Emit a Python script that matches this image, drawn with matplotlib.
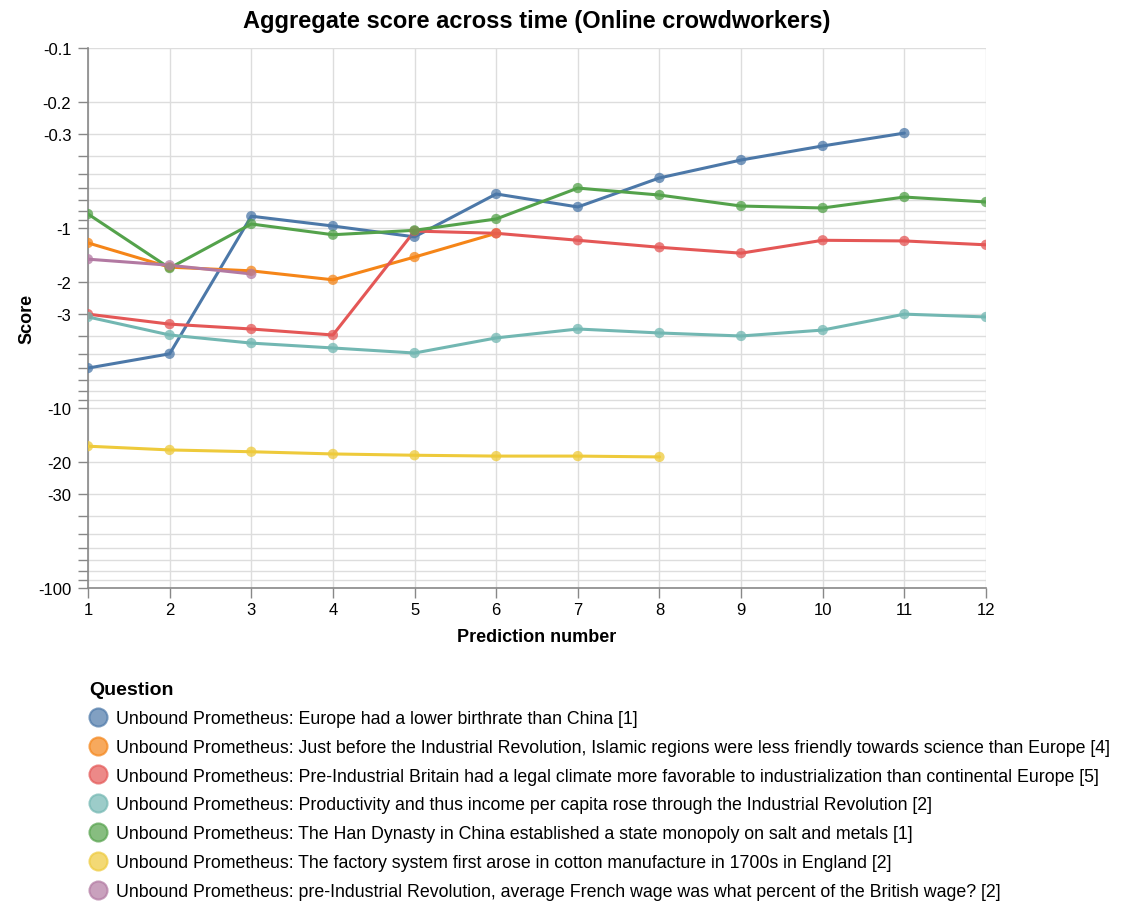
import numpy as np
import matplotlib
matplotlib.use("Agg")
import matplotlib.pyplot as plt
from matplotlib.lines import Line2D

plt.rcParams['font.family'] = ['Liberation Sans', 'DejaVu Sans']

series_names = [
    "Unbound Prometheus: Europe had a lower birthrate than China [1]",
    "Unbound Prometheus: Just before the Industrial Revolution, Islamic regions were less friendly towards science than Europe [4]",
    "Unbound Prometheus: Pre-Industrial Britain had a legal climate more favorable to industrialization than continental Europe [5]",
    "Unbound Prometheus: Productivity and thus income per capita rose through the Industrial Revolution [2]",
    "Unbound Prometheus: The Han Dynasty in China established a state monopoly on salt and metals [1]",
    "Unbound Prometheus: The factory system first arose in cotton manufacture in 1700s in England [2]",
    "Unbound Prometheus: pre-Industrial Revolution, average French wage was what percent of the British wage? [2]",
]
colors = ["#4c78a8", "#f58518", "#e45756", "#72b7b2", "#54a24b", "#eeca3b", "#b279a2"]

blue_x = [1, 2, 3, 4, 5, 6, 7, 8, 9, 10, 11]
blue_y = [-6.0, -5.0, -0.86, -0.975, -1.12, -0.647, -0.764, -0.527, -0.419, -0.35, -0.297]
orange_x = [1, 2, 3, 4, 5, 6]
orange_y = [-1.21, -1.65, -1.73, -1.94, -1.45, -1.07]
red_x = [1, 2, 3, 4, 5, 6, 7, 8, 9, 10, 11, 12]
red_y = [-3.01, -3.42, -3.64, -3.93, -1.04, -1.07, -1.17, -1.28, -1.38, -1.17, -1.18, -1.24]
teal_x = [1, 2, 3, 4, 5, 6, 7, 8, 9, 10, 11, 12]
teal_y = [-3.12, -3.93, -4.36, -4.64, -4.95, -4.08, -3.64, -3.83, -3.98, -3.69, -3.01, -3.12]
green_x = [1, 2, 3, 4, 5, 6, 7, 8, 9, 10, 11, 12]
green_y = [-0.836, -1.67, -0.95, -1.09, -1.03, -0.891, -0.60, -0.656, -0.755, -0.774, -0.673, -0.717]
yellow_x = [1, 2, 3, 4, 5, 6, 7, 8]
yellow_y = [-16.3, -17.1, -17.5, -18.0, -18.3, -18.5, -18.5, -18.7]
purple_x = [1, 2, 3]
purple_y = [-1.49, -1.61, -1.80]

xs = [blue_x, orange_x, red_x, teal_x, green_x, yellow_x, purple_x]
ys = [blue_y, orange_y, red_y, teal_y, green_y, yellow_y, purple_y]

major_ticks = [-0.1, -0.2, -0.3, -1, -2, -3, -10, -20, -30, -100]
major_labels = ["-0.1", "-0.2", "-0.3", "-1", "-2", "-3", "-10", "-20", "-30", "-100"]
minor_ticks = [-m * d for d in (0.1, 1, 10) for m in range(4, 10)]
x_ticks = list(range(1, 13))

W, H = 1133, 912
fig = plt.figure(figsize=(W / 100, H / 100), dpi=100)
ax = fig.add_axes([88 / W, 1 - 589 / H, (986 - 88) / W, (589 - 49) / H])


def fwd(y):
    y = np.asarray(y, dtype=float)
    with np.errstate(divide='ignore', invalid='ignore'):
        out = -np.log10(np.where(y < 0, -y, np.nan))
    return out


def inv(u):
    return -np.power(10.0, -np.asarray(u, dtype=float))


ax.set_yscale('function', functions=(fwd, inv))

for x, y, c in zip(xs, ys, colors):
    ax.plot(x, y, color=c, lw=2.2, zorder=3, solid_capstyle='round')
    ax.scatter(x, y, s=55, color=c, alpha=0.75, edgecolors='none', zorder=4)

ax.set_ylim(-100, -0.1)
ax.set_xlim(1, 12)
ax.set_yticks(major_ticks)
ax.set_yticklabels(major_labels)
ax.set_yticks(minor_ticks, minor=True)
ax.yaxis.set_minor_formatter(matplotlib.ticker.NullFormatter())
ax.set_xticks(x_ticks)
ax.set_xticklabels([str(v) for v in x_ticks])

ax.grid(True, which='both', color='#dddddd', lw=1, zorder=0)
ax.set_axisbelow(True)
for s in ['top', 'right']:
    ax.spines[s].set_visible(False)
for s in ['left', 'bottom']:
    ax.spines[s].set_color('#888888')
    ax.spines[s].set_linewidth(1.2)
ax.tick_params(axis='both', which='both', direction='out', length=7.5, width=1, color='#888888',
               labelsize=12, labelcolor='black', pad=4.5)
ax.tick_params(axis='x', which='both', pad=2.5)

ax.set_xlabel("Prediction number", fontsize=13, fontweight='bold', labelpad=8)
ax.set_ylabel("Score", fontsize=13, fontweight='bold', labelpad=2)
ax.set_title("Aggregate score across time (Online crowdworkers)", fontsize=17, fontweight='bold', pad=15)

handles = [Line2D([], [], marker='o', linestyle='none', markersize=13, markerfacecolor=c,
                  markeredgecolor=c, markeredgewidth=1.5, alpha=0.7) for c in colors]
leg = fig.legend(handles, series_names, loc='upper left', bbox_to_anchor=(82 / W, 1 - 675 / H),
                 frameon=False, fontsize=12.8, title="Question", alignment='left',
                 title_fontproperties={'weight': 'bold', 'size': 14}, handlelength=1.0,
                 handletextpad=0.5, labelspacing=0.665, borderaxespad=0)

fig.savefig("out.png", dpi=100)
